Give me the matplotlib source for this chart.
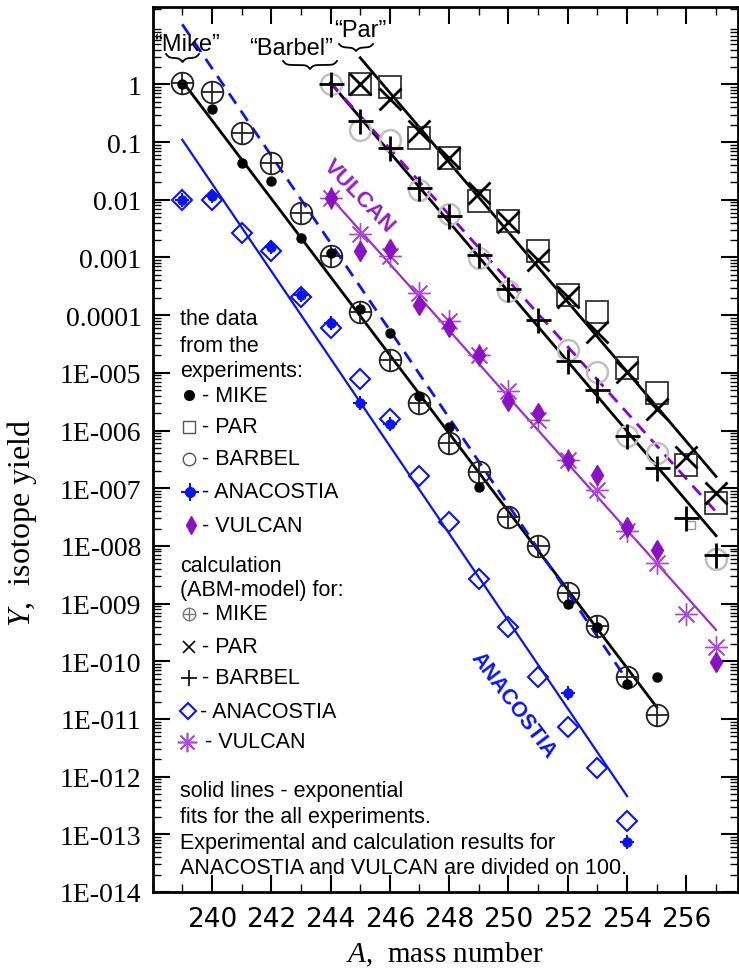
import numpy as np
import matplotlib
matplotlib.use('Agg')
import matplotlib.pyplot as plt
from matplotlib.lines import Line2D
from matplotlib.ticker import MultipleLocator, LogLocator, NullFormatter

plt.rcParams['mathtext.fontset'] = 'custom'
plt.rcParams['mathtext.rm'] = 'Liberation Serif'
plt.rcParams['mathtext.it'] = 'Liberation Serif:italic'

W, H = 739, 978

# ---- values (A = mass number, Y = yield) ----
mike_exp_A = [239, 240, 241, 242, 243, 244, 245, 246, 247, 248, 249, 252, 253, 254, 255]
mike_exp_Y = [1.0, 0.38, 0.043, 0.021, 0.0022, 0.0012, 1.3e-4, 4.9e-5, 3.9e-6, 1.17e-6,
              1.07e-7, 9.8e-10, 4e-10, 4e-11, 5.4e-11]
mike_calc_A = list(range(239, 256))
mike_calc_Y = [1.05, 0.75, 0.145, 0.044, 0.0059, 0.00105, 1.15e-4, 1.7e-5, 3e-6, 6e-7,
               1.9e-7, 3.2e-8, 1e-8, 1.5e-9, 4.1e-10, 5.4e-11, 1.15e-11]

par_exp_A = list(range(245, 258))
par_exp_Y = [1.0, 0.9, 0.12, 0.053, 0.0094, 0.0043, 0.0013, 2.2e-4, 1.15e-4, 1.2e-5,
             4.4e-6, 2.5e-7, 5.5e-8]
par_small_A = [256.15]
par_small_Y = [2.3e-8]
par_calc_A = list(range(245, 258))
par_calc_Y = [1.0, 0.55, 0.155, 0.053, 0.013, 0.0042, 9e-4, 2.1e-4, 5.2e-5, 1.05e-5,
              2.4e-6, 3.5e-7, 8.1e-8]

barbel_exp_A = [244, 245, 246, 247, 248, 249, 250, 252, 253, 254, 255, 257]
barbel_exp_Y = [1.0, 0.16, 0.11, 0.015, 0.0056, 9.8e-4, 2.6e-4, 2.5e-5, 1.05e-5, 7.9e-7,
                4.1e-7, 6e-9]
barbel_calc_A = list(range(244, 258))
barbel_calc_Y = [1.0, 0.23, 0.08, 0.016, 0.0052, 0.0011, 2.8e-4, 8.3e-5, 1.6e-5, 5e-6,
                 7.9e-7, 2.2e-7, 3e-8, 6.9e-9]

anac_exp_A = [239, 240, 242, 243, 244, 245, 246, 252, 254]
anac_exp_Y = [0.01, 0.0115, 0.0015, 2.2e-4, 7.3e-5, 3e-6, 1.3e-6, 2.8e-11, 7.3e-14]
anac_calc_A = list(range(239, 255))
anac_calc_Y = [0.01, 0.01, 0.0027, 0.0013, 2.1e-4, 6e-5, 7.8e-6, 1.6e-6, 1.6e-7, 2.6e-8,
               2.7e-9, 4e-10, 5.4e-11, 7.2e-12, 1.4e-12, 1.7e-13]

vulcan_exp_A = [244, 245, 246, 247, 248, 249, 250, 251, 252, 253, 254, 255, 257]
vulcan_exp_Y = [0.0108, 0.0013, 0.0014, 1.5e-4, 6.3e-5, 2e-5, 3.2e-6, 2e-6, 3.1e-7,
                1.7e-7, 2.1e-8, 8.5e-9, 9.8e-11]
vulcan_calc_A = list(range(244, 258))
vulcan_calc_Y = [0.0108, 0.0026, 0.00105, 2.4e-4, 7.8e-5, 2e-5, 4.8e-6, 1.5e-6, 3.1e-7,
                 9.3e-8, 1.8e-8, 5e-9, 6.7e-10, 1.8e-10]

# exponential fits (end points)
mike_fit_A, mike_fit_Y = [239, 255], [1.14, 1.6e-11]
mike_dash_A, mike_dash_Y = [239, 254], [11.0, 4.7e-11]
par_fit_A, par_fit_Y = [245, 257], [2.9, 1.6e-7]
barbel_fit_A, barbel_fit_Y = [244, 257], [1.07, 1.5e-8]
barbel_dash_A, barbel_dash_Y = [244, 257], [1.07, 3.9e-8]
anac_fit_A, anac_fit_Y = [239, 254], [0.11, 4.6e-13]
vulcan_fit_A, vulcan_fit_Y = [244, 257], [0.011, 3.5e-10]

ytick_vals = [10.0 ** -k for k in range(15)]
ytick_labels = ['1', '0.1', '0.01', '0.001', '0.0001'] + ['1E-%03d' % k for k in range(5, 15)]
xtick_vals = list(range(240, 257, 2))

BLUE = '#0a14f0'
PURPLE_D = '#8b12c4'
PURPLE_A = '#b048e0'
PURPLE_L = '#9a30cc'
PURPLE_DASH = '#8a00d0'
GREY = '#c0c0c0'

fig = plt.figure(figsize=(W / 100, H / 100), dpi=100)
ax = fig.add_axes([152.6 / W, 1 - 893 / H, (738 - 152.6) / W, (893 - 8) / H])
ax.set_yscale('log')
ax.set_xlim(238, 257.74)
ax.set_ylim(1e-14, 22)

# fit lines
ax.plot(mike_fit_A, mike_fit_Y, color='black', lw=2, zorder=2)
ax.plot(par_fit_A, par_fit_Y, color='black', lw=2, zorder=2)
ax.plot(barbel_fit_A, barbel_fit_Y, color='black', lw=2, zorder=2)
ax.plot(anac_fit_A, anac_fit_Y, color=BLUE, lw=1.6, zorder=2)
ax.plot(vulcan_fit_A, vulcan_fit_Y, color=PURPLE_L, lw=1.6, zorder=2)
ax.plot(mike_dash_A, mike_dash_Y, color=BLUE, lw=2, dashes=(4.5, 3), zorder=2)
ax.plot(barbel_dash_A, barbel_dash_Y, color=PURPLE_DASH, lw=2, dashes=(4.5, 3), zorder=2)

# calculations
ax.plot(mike_calc_A, mike_calc_Y, 'o', ms=15.6, mfc='none', mec='#222222', mew=1.3, zorder=3)
ax.plot(mike_calc_A, mike_calc_Y, '+', ms=15.6, mec='#222222', mew=1.3, zorder=3)
ax.plot(barbel_exp_A, barbel_exp_Y, 'o', ms=15, mfc='none', mec=GREY, mew=1.8, zorder=3)
ax.plot(par_exp_A, par_exp_Y, 's', ms=16, mfc='none', mec='#333333', mew=1.3, zorder=3)
ax.plot(par_small_A, par_small_Y, 's', ms=6, mfc='none', mec='#999999', mew=1, zorder=3)
ax.plot(par_calc_A, par_calc_Y, 'x', ms=16, mec='black', mew=2, zorder=4)
ax.plot(barbel_calc_A, barbel_calc_Y, '+', ms=18, mec='black', mew=2, zorder=4)
ax.plot(anac_calc_A, anac_calc_Y, 'D', ms=10, mfc='none', mec=BLUE, mew=1.5, zorder=3)
ax.plot(vulcan_calc_A, vulcan_calc_Y, marker=(8, 2, 0), ls='none', ms=16, mec=PURPLE_A, mew=1, zorder=3)

# experiments
ax.plot(mike_exp_A, mike_exp_Y, 'o', ms=6.5, color='black', zorder=5)
ax.plot(anac_exp_A, anac_exp_Y, 'o', ms=6.5, color=BLUE, zorder=5)
ax.plot(anac_exp_A, anac_exp_Y, '+', ms=10, mec=BLUE, mew=1.5, zorder=5)
ax.plot(vulcan_exp_A, vulcan_exp_Y, 'd', ms=10, color=PURPLE_D, zorder=4)

# axes styling
ax.set_yticks(ytick_vals)
ax.set_yticklabels(ytick_labels, family='Liberation Serif', fontsize=20)
ax.yaxis.set_minor_locator(LogLocator(base=10, subs=np.arange(2, 10), numticks=100))
ax.yaxis.set_minor_formatter(NullFormatter())
ax.set_xticks(xtick_vals)
ax.set_xticklabels([str(v) for v in xtick_vals], family=['Liberation Sans Narrow', 'DejaVu Sans'],
                   fontsize=19)
ax.xaxis.set_minor_locator(MultipleLocator(1))
ax.tick_params(which='both', direction='in', top=True, right=True)
ax.tick_params(which='major', length=12, width=1.5)
ax.tick_params(which='minor', length=6, width=1)
ax.tick_params(axis='y', which='major', pad=8)
ax.tick_params(axis='x', which='major', pad=10)
for s in ax.spines.values():
    s.set_linewidth(2)

ax.set_xlabel(r'$\mathit{A}$,  mass number', family='Liberation Serif', fontsize=21)
ax.xaxis.label.set_va('center')
ax.xaxis.set_label_coords(0.4995, -0.07)
ax.set_ylabel(r'$\mathit{Y}$,  isotope yield', family='Liberation Serif', fontsize=23)
ax.yaxis.label.set_va('center')
ax.yaxis.set_label_coords(-0.223, 0.418)

# curve labels
ax.text(244.96, 0.0118, 'VULCAN', color='#9020c0', fontsize=16, fontweight='bold',
        family='Liberation Sans', rotation=-46, ha='center', va='center', rotation_mode='anchor')
ax.text(250.15, 1.8e-11, 'ANACOSTIA', color=BLUE, fontsize=15.5, fontweight='bold',
        family='Liberation Sans', rotation=-53, ha='center', va='center', rotation_mode='anchor')


# ---- figure-pixel helpers for the hand-made legend and braces ----
def fx(px):
    return np.asarray(px) / W


def fy(py):
    return 1 - np.asarray(py) / H


def ftext(px, py, s, **kw):
    kw.setdefault('family', 'Liberation Sans')
    kw.setdefault('fontsize', 15.5)
    fig.text(fx(px), fy(py), s, va='center', **kw)


def fmark(px, py, **kw):
    fig.add_artist(Line2D([fx(px)], [fy(py)], linestyle='none', **kw))


def brace(x0, x1, ytop, h, beta=0.6):
    n = 201
    xs = np.linspace(x0, x1, n)
    half = xs[:n // 2 + 1]
    yb = 1 / (1 + np.exp(-beta * (half - half[0]))) + 1 / (1 + np.exp(-beta * (half - half[-1])))
    yb = np.concatenate((yb, yb[-2::-1]))
    ys = ytop + (yb - 0.5) * h
    fig.add_artist(Line2D(fx(xs), fy(ys), color='black', lw=1.3))


ftext(187, 45, '\u201cMike\u201d', ha='center', fontsize=17)
brace(166, 199, 55, 8)
ftext(291, 49, '\u201cBarbel\u201d', ha='center', fontsize=17)
brace(283, 337, 62, 8)
ftext(360, 31, '\u201cPar\u201d', ha='center', fontsize=17)
brace(339, 373, 45, 7)

# legend block
ftext(180, 320, 'the data')
ftext(180, 346, 'from the')
ftext(180, 371, 'experiments:')
fmark(189, 396, marker='o', ms=7, color='black')
ftext(202, 396, '- MIKE')
fmark(189, 428, marker='s', ms=9, mfc='none', mec='#555555', mew=1)
ftext(202, 428, '- PAR')
fmark(189, 460, marker='o', ms=9, mfc='none', mec='#555555', mew=1)
ftext(202, 460, '- BARBEL')
fmark(190, 493, marker='o', ms=7, color=BLUE)
fmark(190, 493, marker='+', ms=13, mec=BLUE, mew=1.5)
ftext(202, 493, '- ANACOSTIA')
fmark(191, 526, marker='d', ms=9, color=PURPLE_D)
ftext(202, 526, '- VULCAN')
ftext(180, 567, 'calculation')
ftext(180, 591, '(ABM-model) for:')
fmark(189, 615, marker='o', ms=9, mfc='none', mec='#777777', mew=1)
fmark(189, 615, marker='+', ms=9, mec='#777777', mew=1)
ftext(202, 615, '- MIKE')
fmark(189, 648, marker='x', ms=9, mec='black', mew=1.2)
ftext(202, 648, '- PAR')
fmark(189, 679, marker='+', ms=11, mec='black', mew=1.2)
ftext(202, 679, '- BARBEL')
fmark(188, 712, marker='D', ms=8, mfc='none', mec=BLUE, mew=1.5)
ftext(200, 712, '- ANACOSTIA')
fmark(187, 743, marker=(8, 2, 0), ms=14, mec=PURPLE_A, mew=1.2)
ftext(205, 743, '- VULCAN')
ftext(180, 792, 'solid lines - exponential')
ftext(180, 818, 'fits for the all experiments.')
ftext(180, 844, 'Experimental and calculation results for')
ftext(180, 869, 'ANACOSTIA and VULCAN are divided on 100.')

fig.savefig('out.png', dpi=100)
